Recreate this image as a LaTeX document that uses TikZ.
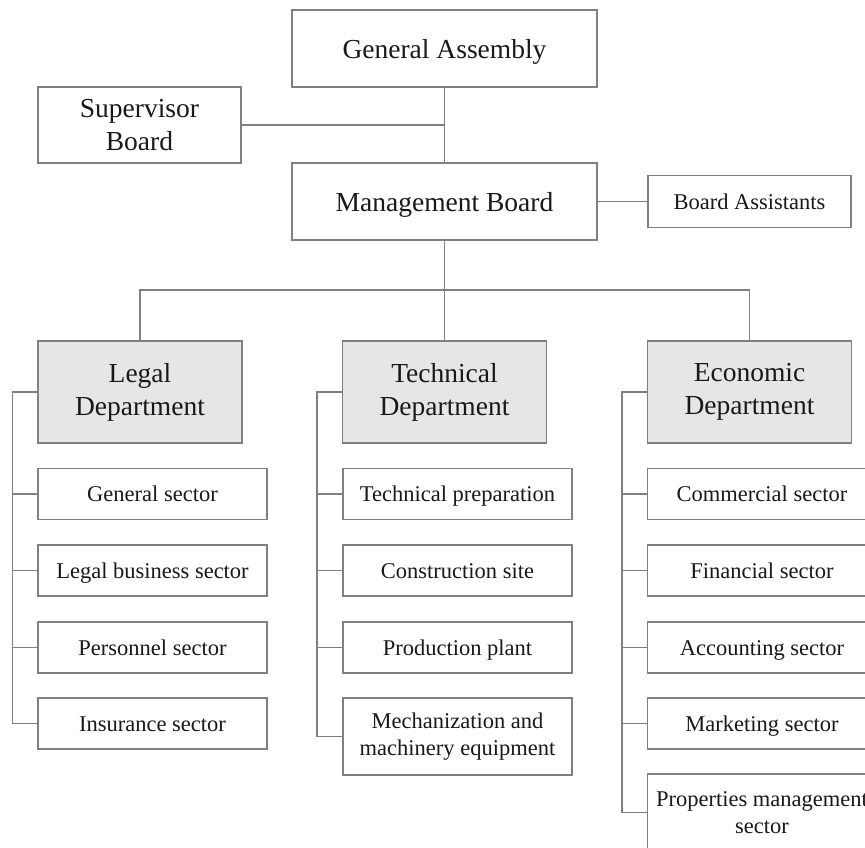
\documentclass[tikz,border=0pt]{standalone}
\usepackage{fontspec}
\setmainfont{Liberation Serif}
\begin{document}
\begin{tikzpicture}[x=1pt,y=-1pt,
  line width=1.2pt,
  conn/.style={draw=linegray},
  box/.style={draw=linegray, fill=white, align=center, inner sep=0pt,
    text=black!90, font=\fontsize{22.5}{27}\selectfont},
  bigbox/.style={box, font=\fontsize{27.5}{33}\selectfont},
  % single-line labels share one baseline whatever their descenders
  oneline/.style={text height=15.5pt, text depth=0pt},
  bigoneline/.style={text height=19pt, text depth=0pt},
  dept/.style={bigbox, fill=deptgray, minimum width=204pt, minimum height=102pt},
  sector/.style={box, oneline, minimum width=229pt, minimum height=51pt},
  tallsector/.style={box, minimum width=229pt, minimum height=77pt}]
\definecolor{linegray}{HTML}{808080}
\definecolor{deptgray}{HTML}{E6E6E6}
\useasboundingbox (0,0) rectangle (865,847);
\clip (0,0) rectangle (865,847);

% top of the hierarchy
\node[bigbox, bigoneline, minimum width=305pt, minimum height=77pt] (ga) at (444.5,48.5) {General Assembly};
\node[bigbox, minimum width=203pt, minimum height=76pt] (sb) at (139.5,125) {Supervisor\\Board};
\node[bigbox, bigoneline, minimum width=305pt, minimum height=77pt] (mb) at (444.5,201.5) {Management Board};
\node[box, oneline, minimum width=203pt, minimum height=52pt] (ba) at (749.5,201.5) {Board Assistants};

% departments
\node[dept] (ld) at (140,392) {Legal\\Department};
\node[dept] (td) at (444.5,392) {Technical\\Department};
\node[dept] (ed) at (749.5,392) {Economic\\Department};
\coordinate (bar) at (444.5,290);

% legal sectors
\node[sector] (l1) at (152.5,494) {General sector};
\node[sector] (l2) at (152.5,570.5) {Legal business sector};
\node[sector] (l3) at (152.5,647.5) {Personnel sector};
\node[sector] (l4) at (152.5,723.5) {Insurance sector};

% technical sectors
\node[sector] (t1) at (457.5,494) {Technical preparation};
\node[sector] (t2) at (457.5,570.5) {Construction site};
\node[sector] (t3) at (457.5,647.5) {Production plant};
\node[tallsector] (t4) at (457.5,736.5) {Mechanization and\\machinery equipment};

% economic sectors
\node[sector] (e1) at (762,494) {Commercial sector};
\node[sector] (e2) at (762,570.5) {Financial sector};
\node[sector] (e3) at (762,647.5) {Accounting sector};
\node[sector] (e4) at (762,723.5) {Marketing sector};
\node[tallsector] (e5) at (762,812.5) {Properties management\\sector};

% connectors
\draw[conn] (ga.south) -- (mb.north);
\draw[conn] (sb.east) -- (sb.east -| ga.south);
\draw[conn] (mb.east) -- (ba.west);
\draw[conn] (mb.south) -- (td.north);
\draw[conn] (ld.north) |- (bar) -| (ed.north);

\draw[conn] (ld.west) -- ++(-25,0) |- (l4.west);
\foreach \i in {1,2,3} \draw[conn] (l\i.west) -- ++(-25,0);
\draw[conn] (td.west) -- ++(-25,0) |- (t4.west);
\foreach \i in {1,2,3} \draw[conn] (t\i.west) -- ++(-25,0);
\draw[conn] (ed.west) -- ++(-25,0) |- (e5.west);
\foreach \i in {1,2,3,4} \draw[conn] (e\i.west) -- ++(-25,0);
\end{tikzpicture}
\end{document}
